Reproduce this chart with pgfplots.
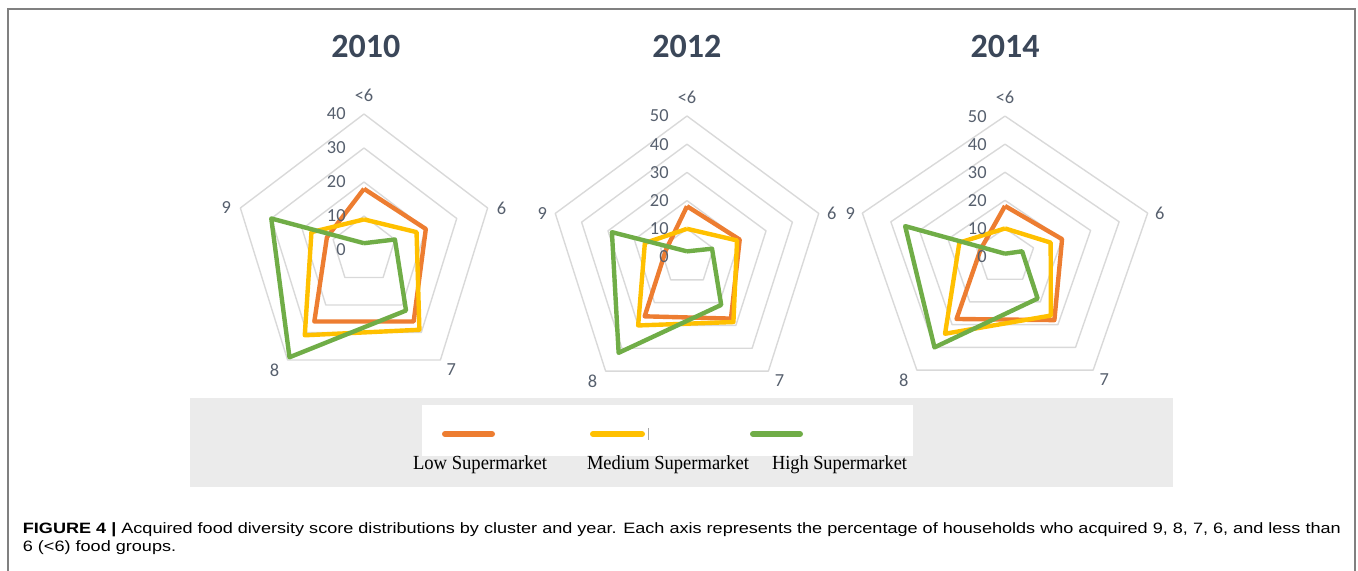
\documentclass[border=0pt]{standalone}
\usepackage{pgfplots}
\pgfplotsset{compat=1.18}
\usepgfplotslibrary{polar}
\usepackage{fontspec}
\usepackage{graphicx}
\newfontfamily\carlito{Carlito}
\newfontfamily\timesf{Liberation Serif}
\newfontfamily\arialf{Liberation Sans}
\definecolor{cLow}{HTML}{ED7D31}
\definecolor{cMed}{HTML}{FFC000}
\definecolor{cHigh}{HTML}{70AD47}
\definecolor{gridc}{HTML}{D9D9D9}
\definecolor{titlec}{HTML}{3B4759}
\definecolor{lblc}{HTML}{565F6D}
\definecolor{bandc}{HTML}{EBEBEB}
\definecolor{framec}{HTML}{808080}
\pgfplotsset{
  radar/.style={scale only axis, hide axis, clip=false, anchor=center,
    xmin=-#1, xmax=#1, ymin=-#1, ymax=#1},
  ring/.style={draw=gridc, line width=0.7bp, line join=round, data cs=polar},
  series/.style={line width=2.2bp, line join=round, data cs=polar},
}
\tikzset{
  tlbl/.style={font=\carlito\fontsize{9.2bp}{10bp}\selectfont, text=lblc, inner sep=0pt},
  ttl/.style={font=\carlito\bfseries\fontsize{17bp}{20bp}\selectfont, text=titlec, inner sep=0pt},
}
\newsavebox\capone
\newsavebox\captwo
\begin{document}%
\sbox\capone{\arialf\fontsize{7.5bp}{9bp}\selectfont\textbf{FIGURE 4 |} Acquired food diversity score distributions by cluster and year. Each axis represents the percentage of households who acquired 9, 8, 7, 6, and less than}%
\sbox\captwo{\arialf\fontsize{7.5bp}{9bp}\selectfont 6 (<6) food groups.}%
\pgfmathsetmacro\capscale{659*1.00375/\wd\capone}%
\begin{tikzpicture}
\useasboundingbox (0,0) rectangle (679bp,-285.5bp);
% frame
\draw[framec, line width=1bp] (4bp,-286bp) -- (4bp,-4.5bp) -- (677.5bp,-4.5bp) -- (677.5bp,-286bp);
% legend band
\fill[bandc] (95bp,-199bp) rectangle (586.5bp,-243.5bp);
\fill[white] (211bp,-202.5bp) rectangle (456.5bp,-228bp);
\draw[cLow, line width=3bp, line cap=round] (222.5bp,-217bp) -- (246bp,-217bp);
\draw[cMed, line width=3bp, line cap=round] (296.5bp,-217bp) -- (321bp,-217bp);
\draw[cHigh, line width=3bp, line cap=round] (376.5bp,-217bp) -- (400bp,-217bp);
\draw[gray!70, line width=0.4bp] (324bp,-214bp) -- (324bp,-220bp);
\node[anchor=base, inner sep=0pt] at (240bp,-234.5bp) {\resizebox{67bp}{\height}{\timesf\fontsize{10bp}{12bp}\selectfont Low Supermarket}};
\node[anchor=base, inner sep=0pt] at (334bp,-234.5bp) {\resizebox{81bp}{\height}{\timesf\fontsize{10bp}{12bp}\selectfont Medium Supermarket}};
\node[anchor=base, inner sep=0pt] at (419.75bp,-234.5bp) {\resizebox{67.5bp}{\height}{\timesf\fontsize{10bp}{12bp}\selectfont High Supermarket}};
% caption
\node[anchor=base west, inner sep=0pt] at (11.25bp,-266.5bp) {\scalebox{\capscale}[1]{\usebox\capone}};
\node[anchor=base west, inner sep=0pt] at (11.25bp,-275.5bp) {\scalebox{\capscale}[1]{\usebox\captwo}};
% titles
\node[ttl] at (182.9bp,-23bp) {2010};
\node[ttl] at (343.4bp,-23.3bp) {2012};
\node[ttl] at (502.5bp,-23bp) {2014};

% ---------- 2010 ----------
\begin{axis}[radar=40, width=130bp, height=136bp, at={(182bp,-125bp)}]
\pgfplotsinvokeforeach{10,20,30,40}{
  \addplot[ring] coordinates {(90,#1) (18,#1) (-54,#1) (-126,#1) (162,#1) (90,#1)};
}
\addplot[series, cLow]  coordinates {(90,18) (18,20) (-54,26) (-126,26) (162,12) (90,18)};
\addplot[series, cMed]  coordinates {(90,9) (18,17) (-54,29) (-126,31) (162,17) (90,9)};
\addplot[series, cHigh] coordinates {(90,2) (18,10) (-54,22) (-126,39) (162,30) (90,2)};
\pgfplotsinvokeforeach{0,10,20,30,40}{
  \node[tlbl, anchor=east, xshift=-9bp] at (axis cs:0,#1) {#1};
}
\node[tlbl, yshift=9.5bp] at (axis cs:0,40) {<6};
\node[tlbl, xshift=7bp] at (axis cs:38.04,12.36) {6};
\node[tlbl, xshift=5.5bp, yshift=-5bp] at (axis cs:23.51,-32.36) {7};
\node[tlbl, xshift=-6.5bp, yshift=-5bp] at (axis cs:-23.51,-32.36) {8};
\node[tlbl, xshift=-7bp] at (axis cs:-38.04,12.36) {9};
\end{axis}

% ---------- 2012 ----------
\begin{axis}[radar=50, width=138.5bp, height=141bp, at={(343.5bp,-128.5bp)}]
\pgfplotsinvokeforeach{10,20,30,40,50}{
  \addplot[ring] coordinates {(90,#1) (18,#1) (-54,#1) (-126,#1) (162,#1) (90,#1)};
}
\addplot[series, cLow]  coordinates {(90,18) (18,20) (-54,27) (-126,26) (162,8) (90,18)};
\addplot[series, cMed]  coordinates {(90,10) (18,19) (-54,28.5) (-126,30) (162,16) (90,10)};
\addplot[series, cHigh] coordinates {(90,2) (18,9.5) (-54,21) (-126,42) (162,28.5) (90,2)};
\pgfplotsinvokeforeach{0,10,20,30,40,50}{
  \node[tlbl, anchor=east, xshift=-9bp] at (axis cs:0,#1) {#1};
}
\node[tlbl, yshift=9.5bp] at (axis cs:0,50) {<6};
\node[tlbl, xshift=6.5bp] at (axis cs:47.55,15.45) {6};
\node[tlbl, xshift=5.5bp, yshift=-5bp] at (axis cs:29.39,-40.45) {7};
\node[tlbl, xshift=-6.5bp, yshift=-5bp] at (axis cs:-29.39,-40.45) {8};
\node[tlbl, xshift=-6.5bp] at (axis cs:-47.55,15.45) {9};
\end{axis}

% ---------- 2014 ----------
\begin{axis}[radar=50, width=150bp, height=140.4bp, at={(502.5bp,-128.25bp)}]
\pgfplotsinvokeforeach{10,20,30,40,50}{
  \addplot[ring] coordinates {(90,#1) (18,#1) (-54,#1) (-126,#1) (162,#1) (90,#1)};
}
\addplot[series, cLow]  coordinates {(90,18) (18,20) (-54,28) (-126,27.5) (162,8.5) (90,18)};
\addplot[series, cMed]  coordinates {(90,10) (18,16) (-54,26) (-126,34) (162,16) (90,10)};
\addplot[series, cHigh] coordinates {(90,1) (18,6) (-54,18.5) (-126,40) (162,35) (90,1)};
\pgfplotsinvokeforeach{0,10,20,30,40,50}{
  \node[tlbl, anchor=east, xshift=-9bp] at (axis cs:0,#1) {#1};
}
\node[tlbl, yshift=9.5bp] at (axis cs:0,50) {<6};
\node[tlbl, xshift=6bp] at (axis cs:47.55,15.45) {6};
\node[tlbl, xshift=5.5bp, yshift=-5bp] at (axis cs:29.39,-40.45) {7};
\node[tlbl, xshift=-6.5bp, yshift=-5bp] at (axis cs:-29.39,-40.45) {8};
\node[tlbl, xshift=-6bp] at (axis cs:-47.55,15.45) {9};
\end{axis}
\end{tikzpicture}%
\end{document}
